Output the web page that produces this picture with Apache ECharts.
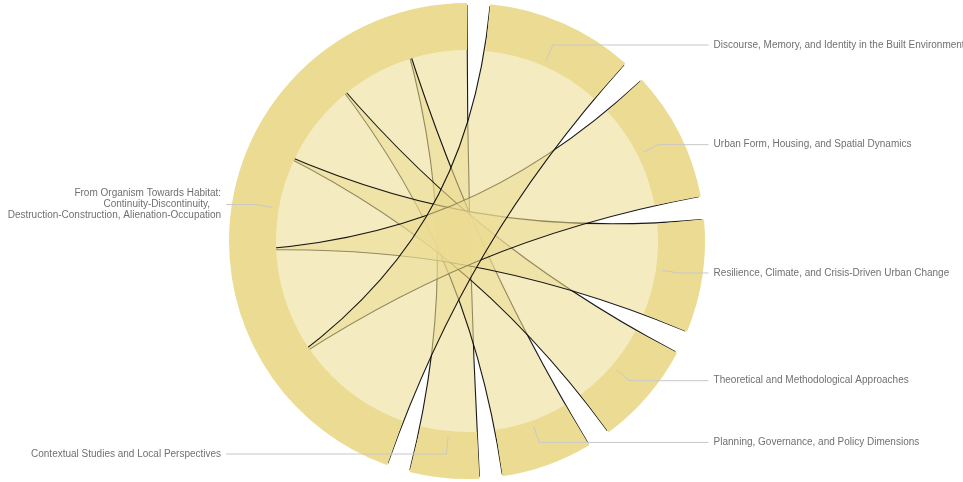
<!DOCTYPE html>
<html>
<head>
<meta charset="utf-8">
<script src="https://cdn.jsdelivr.net/npm/echarts@6/dist/echarts.min.js"></script>
<style>html,body{margin:0;padding:0;background:#fff}#c{width:963px;height:482px}</style>
</head>
<body>
<div id="c"></div>
<script>
const hub = 'From Organism Towards Habitat: Continuity-Discontinuity, Destruction-Construction, Alienation-Occupation';
const hubLabel = 'From Organism Towards Habitat:\nContinuity-Discontinuity,\u00a0\u00a0\u00a0\u00a0\nDestruction-Construction, Alienation-Occupation';
const themes = [
  'Contextual Studies and Local Perspectives',
  'Planning, Governance, and Policy Dimensions',
  'Theoretical and Methodological Approaches',
  'Resilience, Climate, and Crisis-Driven Urban Change',
  'Urban Form, Housing, and Spatial Dynamics',
  'Discourse, Memory, and Identity in the Built Environment'
];
const linkValues = [8, 10.5, 12, 13, 15, 17];

const nodeColor = '#ecdc93';
const ribbonFill = 'rgba(236,220,147,0.64)';
const padAngle = 5.6;
const hubTotal = linkValues.reduce((a, b) => a + b, 0);
const nodeNames = [hub].concat(themes);
const nodeValues = [hubTotal].concat(linkValues);
const valueSum = nodeValues.reduce((a, b) => a + b, 0);
// value that occupies the same angle as one chord pad
const gapValue = padAngle * valueSum / (360 - nodeNames.length * padAngle);

const ringData = [];
nodeNames.forEach((n, i) => {
  ringData.push({name: n, value: nodeValues[i]});
  ringData.push({
    name: 'gap' + i, value: gapValue,
    itemStyle: {color: 'rgba(0,0,0,0)'},
    label: {show: false}, labelLine: {show: false}
  });
});

const chart = echarts.init(document.getElementById('c'), null, {renderer: 'canvas'});
chart.setOption({
  animation: false,
  series: [
    {
      type: 'chord',
      z: 1,
      center: [467, 241],
      radius: [235.5, 236],
      startAngle: 90,
      clockwise: false,
      padAngle: padAngle,
      minAngle: 0,
      silent: true,
      data: nodeNames.map(n => ({name: n})),
      links: themes.map((t, i) => ({source: hub, target: t, value: linkValues[i]})),
      itemStyle: {color: ribbonFill, borderRadius: 0},
      lineStyle: {color: 'source', opacity: 0.9, width: 1.1},
      label: {show: false}
    },
    {
      type: 'pie',
      z: 3,
      center: [467, 241],
      radius: [191, 238],
      startAngle: 90,
      clockwise: false,
      silent: true,
      itemStyle: {color: nodeColor},
      label: {show: false},
      labelLine: {show: false},
      data: ringData
    },
    {
      type: 'pie',
      z: 4,
      center: [467, 241],
      radius: [0, 197],
      startAngle: 90,
      clockwise: false,
      silent: true,
      itemStyle: {color: 'rgba(0,0,0,0)'},
      label: {
        show: true,
        alignTo: 'labelLine',
        overflow: 'none',
        distanceToLabelLine: 5,
        fontSize: 10,
        lineHeight: 11,
        color: '#707070',
        fontFamily: 'Liberation Sans, Arial, sans-serif',
        formatter: p => p.dataIndex === 0 ? hubLabel : p.name
      },
      labelLine: {show: true, length: 17, length2: 30, lineStyle: {color: '#c8c8c8', width: 1}},
      data: ringData
    }
  ]
});
</script>
</body>
</html>
